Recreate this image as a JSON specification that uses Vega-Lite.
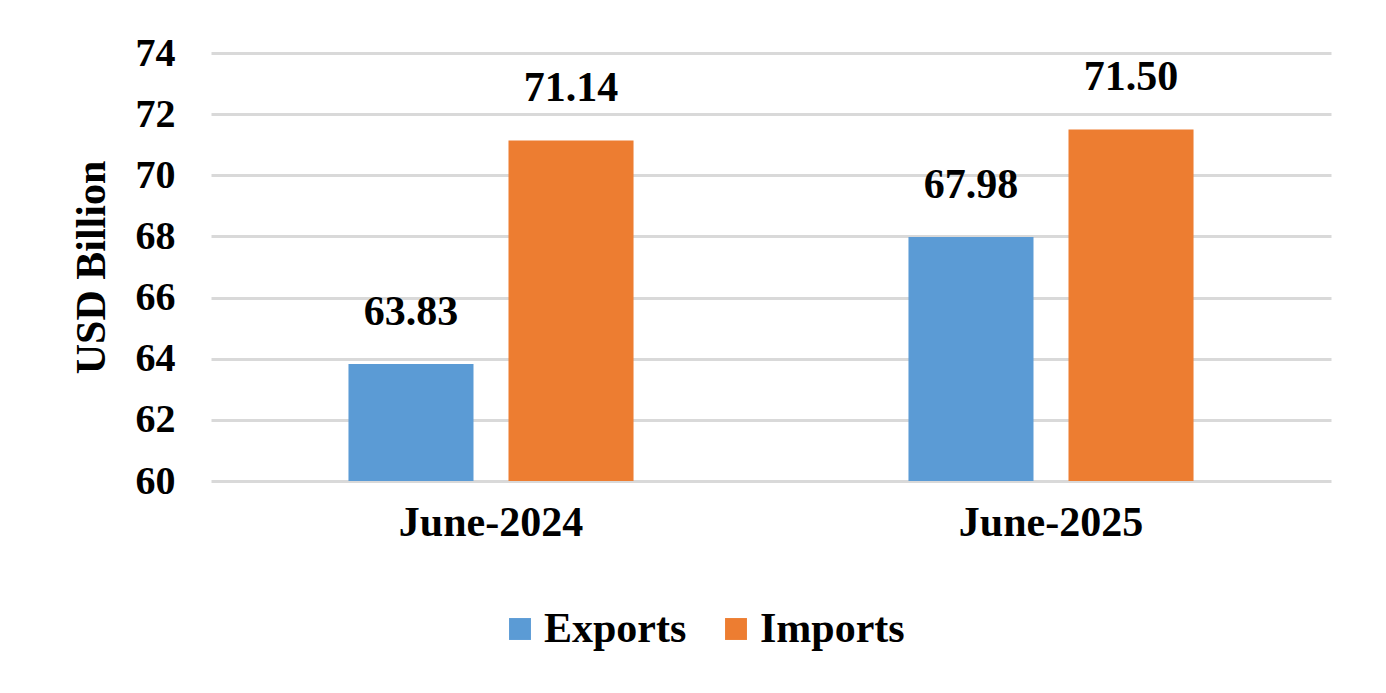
{
  "$schema": "https://vega.github.io/schema/vega-lite/v6.json",
  "autosize": "none",
  "width": 1120,
  "height": 428,
  "padding": {"left": 211, "top": 53, "right": 55, "bottom": 212},
  "background": "white",
  "config": {
    "view": {"stroke": null},
    "font": "Liberation Serif"
  },
  "data": {
    "values": [
      {"month": "June-2024", "type": "Exports", "value": 63.83},
      {"month": "June-2024", "type": "Imports", "value": 71.14},
      {"month": "June-2025", "type": "Exports", "value": 67.98},
      {"month": "June-2025", "type": "Imports", "value": 71.50}
    ]
  },
  "encoding": {
    "x": {
      "field": "month", "type": "nominal", "title": null,
      "scale": {"paddingInner": 0, "paddingOuter": 0},
      "axis": {"labelAngle": 0, "domain": false, "ticks": false, "labelPadding": 21,
        "labelFont": "Liberation Serif", "labelFontWeight": "bold", "labelFontSize": 42, "labelColor": "#000000", "labelLimit": 0}
    },
    "xOffset": {"field": "type", "type": "nominal", "scale": {"paddingInner": 0.21875, "paddingOuter": 0.859}},
    "y": {
      "field": "value", "type": "quantitative",
      "scale": {"domain": [60, 74], "zero": false, "nice": false},
      "axis": {"title": "USD Billion", "values": [60, 62, 64, 66, 68, 70, 72, 74], "domain": false, "ticks": false,
        "labelPadding": 36, "labelFont": "Liberation Serif", "labelFontWeight": "bold", "labelFontSize": 40, "labelColor": "#000000",
        "titleFont": "Liberation Serif", "titleFontWeight": "bold", "titleFontSize": 42, "titleColor": "#000000", "titlePadding": 22,
        "gridColor": "#d9d9d9", "gridWidth": 3}
    }
  },
  "layer": [
    {
      "mark": {"type": "bar", "clip": true},
      "encoding": {
        "color": {
          "field": "type", "type": "nominal", "title": null,
          "scale": {"domain": ["Exports", "Imports"], "range": ["#5b9bd5", "#ed7d31"]},
          "legend": {"orient": "none", "direction": "horizontal", "legendX": 288, "legendY": 555,
            "symbolType": "square", "symbolSize": 480, "symbolStrokeWidth": 0, "symbolOpacity": 1,
            "labelFont": "Liberation Serif", "labelFontWeight": "bold", "labelFontSize": 42, "labelColor": "#000000",
            "labelOffset": 3, "columnPadding": 28, "labelLimit": 0}
        }
      }
    },
    {
      "mark": {"type": "text", "baseline": "bottom", "dy": -30, "font": "Liberation Serif", "fontWeight": "bold", "fontSize": 42, "color": "#000000"},
      "encoding": {"text": {"field": "value", "type": "quantitative", "format": ".2f"}}
    }
  ]
}
